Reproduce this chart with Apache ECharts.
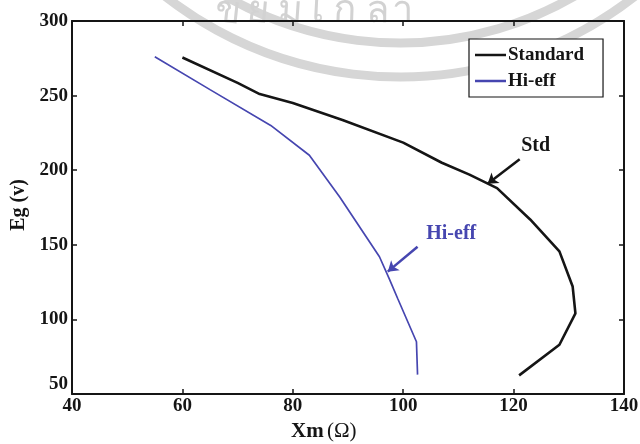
<!DOCTYPE html>
<html>
<head>
<meta charset="utf-8">
<script src="https://cdn.jsdelivr.net/npm/echarts@6/dist/echarts.min.js"></script>
<style>html,body{margin:0;padding:0;background:#fff;}#c{width:640px;height:444px;}</style>
</head>
<body>
<div id="c"></div>
<script>
// ---- data ----
const seriesNames = ['Standard', 'Hi-eff'];
const stdX = [60, 70, 74, 80, 89, 100, 107, 112, 117, 123, 128.3, 130.7, 131.2, 128.3, 121];
const stdY = [275.5, 258.5, 251, 245, 233.7, 218.5, 205, 197, 188, 167, 145.6, 122, 104, 83, 62.5];
const hiX = [55, 65, 76, 83, 88.5, 95.7, 97.5, 99, 102.4, 102.6];
const hiY = [276, 254, 230, 210, 182, 142, 127, 114, 85, 63];
const xTicks = [40, 60, 80, 100, 120, 140];
const yTicks = [50, 100, 150, 200, 250, 300];
const xTitle = 'Xm';
const xUnit = '(Ω)';
const yTitle = 'Eg (v)';
const stdNote = {text: 'Std', at: [124, 216], from: [121.1, 207.4], to: [115.3, 190.9]};
const hiNote = {text: 'Hi-eff', at: [108.7, 157.4], from: [102.6, 148.7], to: [97.2, 132.0]};
const watermark = 'ขยมเกลา';

const FONT = '"Liberation Serif", "Times New Roman", serif';
const BLACK = '#151515';
const BLUE = '#4646b0';
const pair = (xs, ys) => xs.map((x, i) => [x, ys[i]]);

const chart = echarts.init(document.getElementById('c'), null, {renderer: 'canvas'});

const baseX = {
  type: 'value', min: xTicks[0], max: xTicks[xTicks.length - 1], interval: xTicks[1] - xTicks[0],
  splitLine: {show: false},
  axisLine: {show: true, lineStyle: {color: BLACK, width: 2}},
  axisTick: {show: true, inside: true, length: 5, lineStyle: {color: BLACK, width: 1.5}}
};
const baseY = {
  type: 'value', min: yTicks[0], max: yTicks[yTicks.length - 1], interval: yTicks[1] - yTicks[0],
  splitLine: {show: false},
  axisLine: {show: true, lineStyle: {color: BLACK, width: 2}},
  axisTick: {show: true, inside: true, length: 5, lineStyle: {color: BLACK, width: 1.5}}
};
const labelStyle = {color: BLACK, fontFamily: FONT, fontWeight: 'bold', fontSize: 19};

function noteMark(note, color) {
  return {
    markLine: {
      silent: true, animation: false,
      symbol: ['none', 'arrow'], symbolSize: 10,
      lineStyle: {color: color, width: 2.5, type: 'solid'},
      label: {show: false},
      data: [[{coord: note.from}, {coord: note.to}]]
    },
    markPoint: {
      silent: true, animation: false,
      data: [{coord: note.at, symbol: 'circle', symbolSize: 0,
        label: {show: true, position: 'inside', formatter: note.text, color: color,
          fontFamily: FONT, fontWeight: 'bold', fontSize: 20}}]
    }
  };
}

// watermark arcs and text (faint)
const wmGraphics = [
  {type: 'arc', z: -10, silent: true, shape: {cx: 400, cy: -305, r: 382, startAngle: 0.5, endAngle: 2.7},
    style: {stroke: '#d6d6d6', lineWidth: 9, fill: null}},
  {type: 'arc', z: -10, silent: true, shape: {cx: 400, cy: -305, r: 348, startAngle: 0.5, endAngle: 2.7},
    style: {stroke: '#d6d6d6', lineWidth: 9, fill: null}}
];
const wmX = [228, 258, 290, 318, 345, 378, 402];
Array.from(watermark).forEach((ch, i) => {
  const x = wmX[i];
  const rot = -(400 - x) / 1600;
  wmGraphics.push({type: 'text', z: -10, silent: true,
    x: x, y: 10 + Math.abs(x - 330) * 0.02, rotation: rot,
    style: {text: ch, fill: '#d2d2d2', fontSize: 38, fontFamily: '"Noto Sans", "DejaVu Sans", sans-serif',
      align: 'center', verticalAlign: 'middle'}});
});

chart.setOption({
  animation: false,
  backgroundColor: '#fff',
  grid: {left: 72, right: 16, top: 21, bottom: 50, containLabel: false, outerBoundsMode: 'none'},
  xAxis: [
    Object.assign({}, baseX, {position: 'bottom',
      axisLabel: Object.assign({margin: 3}, labelStyle)}),
    Object.assign({}, baseX, {position: 'top', axisLabel: {show: false}})
  ],
  yAxis: [
    Object.assign({}, baseY, {position: 'left',
      axisLabel: Object.assign({margin: 4, verticalAlignMinLabel: 'bottom'}, labelStyle)}),
    Object.assign({}, baseY, {position: 'right', axisLabel: {show: false}})
  ],
  legend: {
    left: 469, top: 39, orient: 'vertical',
    backgroundColor: '#fff', borderColor: BLACK, borderWidth: 1.2, borderRadius: 0,
    padding: [6, 19, 6, 6], itemGap: 6, itemWidth: 31, itemHeight: 2.5,
    textStyle: {color: BLACK, fontFamily: FONT, fontWeight: 'bold', fontSize: 19, lineHeight: 20, padding: [0, 0, 0, -3]},
    data: seriesNames.map(n => ({name: n, icon: 'rect'}))
  },
  series: [
    Object.assign({
      name: seriesNames[0], type: 'line', xAxisIndex: 0, yAxisIndex: 0,
      data: pair(stdX, stdY), showSymbol: false, symbol: 'none', smooth: false,
      lineStyle: {color: BLACK, width: 2.6}, itemStyle: {color: BLACK}, z: 3
    }, noteMark(stdNote, BLACK)),
    Object.assign({
      name: seriesNames[1], type: 'line', xAxisIndex: 0, yAxisIndex: 0,
      data: pair(hiX, hiY), showSymbol: false, symbol: 'none', smooth: false,
      lineStyle: {color: BLUE, width: 1.7}, itemStyle: {color: BLUE}, z: 3
    }, noteMark(hiNote, BLUE))
  ],
  graphic: wmGraphics.concat([
    {type: 'text', left: 291, top: 421, silent: true,
      style: {text: '{a|' + xTitle + '} {b|' + xUnit + '}',
        rich: {a: {fontFamily: FONT, fontWeight: 'bold', fontSize: 21, fill: BLACK},
               b: {fontFamily: FONT, fontWeight: 'normal', fontSize: 21, fill: BLACK}}}},
    {type: 'text', x: 19, y: 205, rotation: Math.PI / 2, silent: true,
      style: {text: yTitle, fontFamily: FONT, fontWeight: 'bold', fontSize: 20, fill: BLACK,
        align: 'center', verticalAlign: 'middle'}}
  ])
});
</script>
</body>
</html>
